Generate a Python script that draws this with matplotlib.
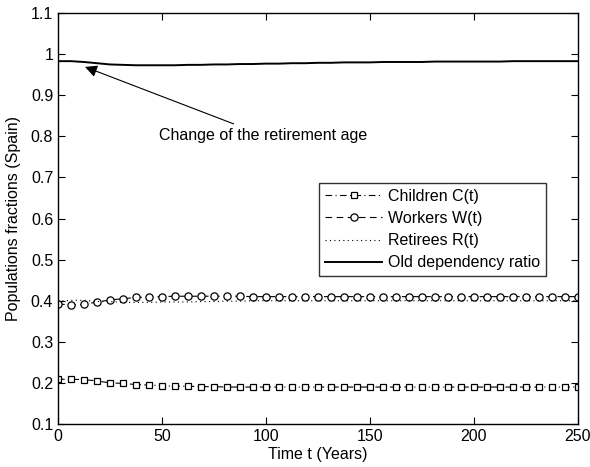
import numpy as np
import matplotlib
matplotlib.use('Agg')
import matplotlib.pyplot as plt

plt.rcParams['font.family'] = ['Liberation Sans', 'DejaVu Sans']

# time grid (years), one point every 6.25 years
t = np.linspace(0, 250, 41)

children = [0.209, 0.209, 0.208, 0.205, 0.200, 0.199, 0.196, 0.195, 0.193, 0.192,
            0.192, 0.191, 0.191, 0.190, 0.190, 0.190, 0.190, 0.190, 0.190, 0.190,
            0.190, 0.190, 0.190, 0.190, 0.190, 0.190, 0.190, 0.190, 0.190, 0.190,
            0.190, 0.190, 0.190, 0.190, 0.190, 0.190, 0.190, 0.190, 0.190, 0.190,
            0.190]
workers = [0.392, 0.390, 0.391, 0.397, 0.402, 0.405, 0.408, 0.409, 0.410, 0.411,
           0.411, 0.411, 0.411, 0.411, 0.411, 0.410, 0.410, 0.410, 0.410, 0.410,
           0.410, 0.410, 0.410, 0.410, 0.410, 0.410, 0.410, 0.410, 0.410, 0.410,
           0.410, 0.410, 0.410, 0.410, 0.410, 0.410, 0.410, 0.410, 0.410, 0.410,
           0.410]
retirees = [0.399, 0.401, 0.401, 0.398, 0.398, 0.396, 0.396, 0.396, 0.397, 0.397,
            0.397, 0.398, 0.398, 0.399, 0.399, 0.400, 0.400, 0.400, 0.400, 0.400,
            0.400, 0.400, 0.400, 0.400, 0.400, 0.400, 0.400, 0.400, 0.400, 0.400,
            0.400, 0.400, 0.400, 0.400, 0.400, 0.400, 0.400, 0.400, 0.400, 0.400,
            0.400]
old_dep = [0.983, 0.983, 0.981, 0.978, 0.975, 0.974, 0.973, 0.973, 0.973, 0.973,
           0.974, 0.974, 0.975, 0.975, 0.976, 0.976, 0.977, 0.977, 0.978, 0.978,
           0.979, 0.979, 0.980, 0.980, 0.980, 0.981, 0.981, 0.981, 0.981, 0.982,
           0.982, 0.982, 0.982, 0.982, 0.982, 0.983, 0.983, 0.983, 0.983, 0.983,
           0.983]

xticks = [0, 50, 100, 150, 200, 250]
yticks = [0.1, 0.2, 0.3, 0.4, 0.5, 0.6, 0.7, 0.8, 0.9, 1.0, 1.1]
ytick_labels = ['0.1', '0.2', '0.3', '0.4', '0.5', '0.6', '0.7', '0.8', '0.9', '1', '1.1']

fs = 11.5

fig = plt.figure(figsize=(5.9, 4.67), dpi=100)
ax = fig.add_axes([0.0983, 0.092, 0.881, 0.880])

ax.plot(t, children, color='black', linestyle=(0, (6, 3, 1, 3)), linewidth=0.8,
        marker='s', markersize=4, markerfacecolor='white', markeredgewidth=0.9,
        label='Children C(t)')
ax.plot(t, workers, color='black', linestyle=(0, (6, 4)), linewidth=0.8,
        marker='o', markersize=5.2, markerfacecolor='white', markeredgewidth=0.9,
        label='Workers W(t)')
ax.plot(t, retirees, color='black', linestyle=(0, (1, 3)), linewidth=0.8,
        label='Retirees R(t)')
ax.plot(t, old_dep, color='black', linestyle='-', linewidth=1.4,
        label='Old dependency ratio')

ax.annotate('Change of the retirement age', xy=(13, 0.969), xytext=(48.5, 0.803),
            fontsize=fs, ha='left', va='center',
            arrowprops=dict(arrowstyle='-|>', color='black', lw=0.8,
                            mutation_scale=18, shrinkA=2, shrinkB=0))

ax.set_xlim(0, 250)
ax.set_ylim(0.1, 1.1)
ax.set_xticks(xticks)
ax.set_yticks(yticks)
ax.set_yticklabels(ytick_labels)
ax.tick_params(direction='in', top=True, right=True, labelsize=fs, length=5, width=0.8)
for s in ax.spines.values():
    s.set_linewidth(1.0)

ax.set_xlabel('Time t (Years)', fontsize=fs, labelpad=2)
ax.set_ylabel('Populations fractions (Spain)', fontsize=fs, labelpad=7)

leg = ax.legend(loc='upper right', bbox_to_anchor=(0.938, 0.586), fontsize=fs,
                numpoints=1, handlelength=3.6, frameon=True, fancybox=False,
                edgecolor='black', borderpad=0.35, labelspacing=0.45,
                handletextpad=0.35, borderaxespad=0)
leg.get_frame().set_linewidth(1.0)

fig.savefig('out.png', dpi=100)
